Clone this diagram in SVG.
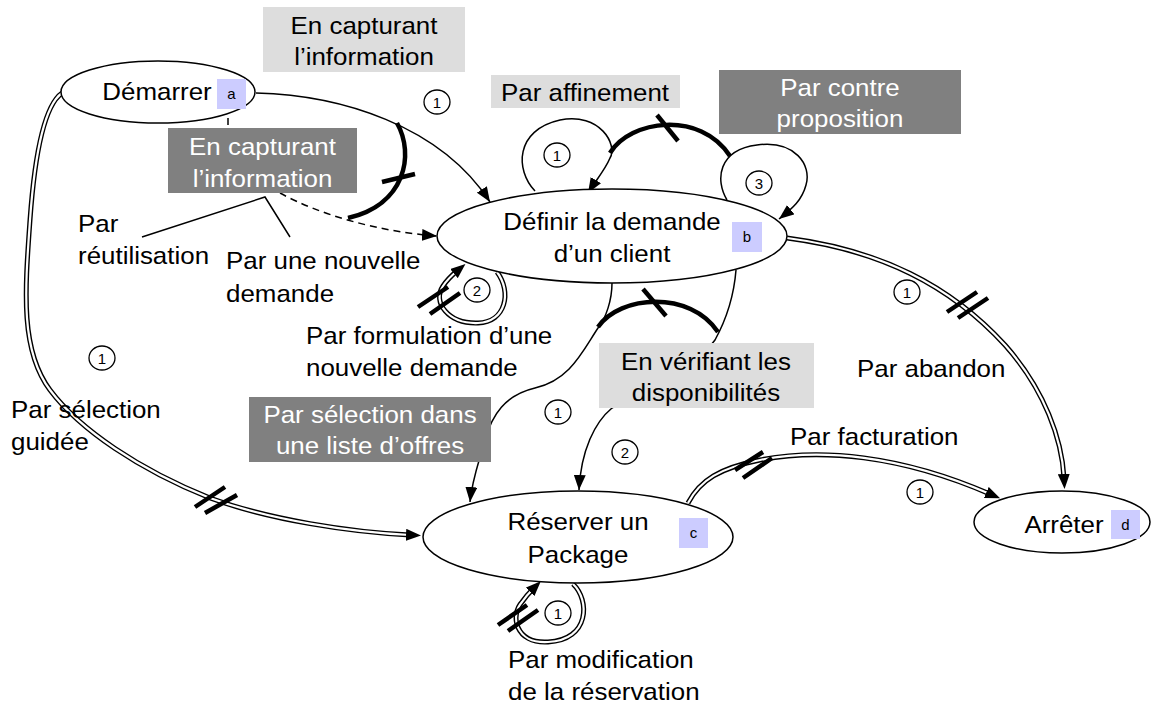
<svg xmlns="http://www.w3.org/2000/svg" width="1151" height="713" viewBox="0 0 1151 713">
<defs>
<style>
.t{font-family:"Liberation Sans",Arial,sans-serif;font-size:24px;fill:#000}
.w{fill:#fff}
.m{text-anchor:middle}
.node{fill:#fff;stroke:#000;stroke-width:1.5}
.lbl{fill:#ccccff}
.lt{font-family:"Liberation Sans",Arial,sans-serif;font-size:15px;text-anchor:middle;fill:#000}
.num{fill:#fff;stroke:#000;stroke-width:1.3}
.nt{font-family:"Liberation Sans",Arial,sans-serif;font-size:15px;text-anchor:middle;fill:#000}
.e{fill:none;stroke:#000;stroke-width:1.5}
.dash{stroke-dasharray:7 5}
.thick{fill:none;stroke:#000;stroke-width:4.5}
.tick{fill:none;stroke:#000;stroke-width:4.5}
.do{fill:none;stroke:#000;stroke-width:5}
.di{fill:none;stroke:#fff;stroke-width:2.2}
.lb{fill:#dddddd}
.db{fill:#808080}
</style>
<marker id="arr" markerUnits="userSpaceOnUse" markerWidth="15" markerHeight="12" refX="15" refY="6" orient="auto"><path d="M0,0 L15,6 L0,12 z" fill="#000"/></marker>
<marker id="arrd" markerUnits="userSpaceOnUse" markerWidth="15" markerHeight="12" refX="4" refY="6" orient="auto"><path d="M0,0 L15,6 L0,12 z" fill="#000"/></marker>
</defs>
<rect width="1151" height="713" fill="#fff"/>

<g id="connectors">
  <path class="e" d="M256,93 C340,95 440,125 490,202" marker-end="url(#arr)"/>
  <path class="e dash" d="M228,118 L228,130"/>
  <path class="e dash" d="M280,193 C320,215 380,232 437,236" marker-end="url(#arr)"/>
  <path class="e" d="M142,237 L265,197 L290,237"/>
  <path class="thick" d="M397,123 C415,155 405,205 348,218"/>
  <path class="tick" d="M382,182 L415,174"/>

  <path class="e" d="M535,191 C515,170 515,130 560,120 C600,112 618,145 610,158 C605,170 596,180 588,193" marker-end="url(#arr)"/>
  <path class="thick" d="M610,153 C630,120 700,110 730,156"/>
  <path class="tick" d="M657,115 L678,141"/>
  <path class="e" d="M727,200 C715,180 718,150 757,145 C795,140 812,165 806,185 C802,200 793,208 779,219" marker-end="url(#arr)"/>

  <path class="do" d="M497,272 C512,292 506,322 478,323 C448,324 432,302 443,286 C447,280 451,276 457,271"/>
  <path class="di" d="M497,272 C512,292 506,322 478,323 C448,324 432,302 443,286 C447,280 451,276 457,271" marker-end="url(#arrd)"/>
  <path class="tick" d="M418,307 L448,287 M430,314 L460,293"/>

  <path class="e" d="M612,283 C612,300 606,318 598,328 C582,352 570,380 535,388 C505,395 492,415 485,440 C478,465 472,480 470,502" marker-end="url(#arr)"/>
  <path class="e" d="M736,270 C734,295 726,320 715,340 C690,375 640,390 612,408 C595,422 581,450 579,490" marker-end="url(#arr)"/>
  <path class="thick" d="M598,327 C620,295 690,290 718,332"/>
  <path class="tick" d="M643,289 L666,316"/>

  <path class="do" d="M62,93 C45,105 35,150 30,220 C25,290 20,350 50,390 C80,430 140,470 210,498 C270,520 350,532 410,535"/>
  <path class="di" d="M62,93 C45,105 35,150 30,220 C25,290 20,350 50,390 C80,430 140,470 210,498 C270,520 350,532 410,535" marker-end="url(#arrd)"/>
  <path class="tick" d="M195,507 L225,487 M205,513 L237,495"/>

  <path class="do" d="M787,238 C880,250 950,285 1005,345 C1045,390 1062,440 1064,478"/>
  <path class="di" d="M787,238 C880,250 950,285 1005,345 C1045,390 1062,440 1064,478" marker-end="url(#arrd)"/>
  <path class="tick" d="M947,312 L977,292 M958,318 L988,298"/>

  <path class="do" d="M688,503 C700,480 720,468 760,460 C820,448 900,455 990,494"/>
  <path class="di" d="M688,503 C700,480 720,468 760,460 C820,448 900,455 990,494" marker-end="url(#arrd)"/>
  <path class="tick" d="M735,470 L763,452 M743,478 L772,458"/>

  <path class="do" d="M573,584 C590,600 590,640 548,642 C515,644 510,615 522,602 C526,596 530,592 533,589"/>
  <path class="di" d="M573,584 C590,600 590,640 548,642 C515,644 510,615 522,602 C526,596 530,592 533,589" marker-end="url(#arrd)"/>
  <path class="tick" d="M498,625 L527,605 M508,631 L538,610"/>
</g>

<g id="labels">
  <g id="lbl-capture-light">
    <rect class="lb" x="263" y="7" width="202" height="65"/>
    <text class="t m" transform="translate(364,34) scale(1.08,1)">En capturant<tspan x="0" dy="31">l’information</tspan></text>
  </g>
  <g id="lbl-capture-dark">
    <rect class="db" x="168" y="128" width="189" height="65"/>
    <text class="t m w" transform="translate(262.5,155) scale(1.08,1)">En capturant<tspan x="0" dy="32">l’information</tspan></text>
  </g>
  <g id="lbl-affinement">
    <rect class="lb" x="491" y="75" width="189" height="33"/>
    <text class="t m" transform="translate(585,101) scale(1.08,1)">Par affinement</text>
  </g>
  <g id="lbl-contre">
    <rect class="db" x="719" y="70" width="242" height="64"/>
    <text class="t m w" transform="translate(840,96) scale(1.08,1)">Par contre<tspan x="0" dy="31">proposition</tspan></text>
  </g>
  <g id="lbl-liste">
    <rect class="db" x="249" y="397" width="242" height="65"/>
    <text class="t m w" transform="translate(370,423) scale(1.08,1)">Par sélection dans<tspan x="0" dy="31">une liste d’offres</tspan></text>
  </g>
  <g id="lbl-verif">
    <rect class="lb" x="599" y="343" width="215" height="65"/>
    <text class="t m" transform="translate(706,370) scale(1.08,1)">En vérifiant les<tspan x="0" dy="31">disponibilités</tspan></text>
  </g>
  <text class="t" transform="translate(78,232) scale(1.08,1)">Par<tspan x="0" dy="32">réutilisation</tspan></text>
  <text class="t" transform="translate(226,269) scale(1.08,1)">Par une nouvelle<tspan x="0" dy="33">demande</tspan></text>
  <text class="t" transform="translate(306,344) scale(1.08,1)">Par formulation d’une<tspan x="0" dy="32">nouvelle demande</tspan></text>
  <text class="t" transform="translate(11,418) scale(1.08,1)">Par sélection<tspan x="0" dy="32">guidée</tspan></text>
  <text class="t" transform="translate(857,377) scale(1.08,1)">Par abandon</text>
  <text class="t" transform="translate(790,445) scale(1.08,1)">Par facturation</text>
  <text class="t" transform="translate(508,668) scale(1.08,1)">Par modification<tspan x="0" dy="32">de la réservation</tspan></text>

  <g id="nums">
    <ellipse class="num" cx="437" cy="102" rx="13" ry="12"/><text class="nt" x="437" y="107.5">1</text>
    <ellipse class="num" cx="557" cy="155" rx="13" ry="12"/><text class="nt" x="557" y="160.5">1</text>
    <ellipse class="num" cx="759" cy="183" rx="13" ry="12"/><text class="nt" x="759" y="188.5">3</text>
    <ellipse class="num" cx="477" cy="290" rx="13" ry="12"/><text class="nt" x="477" y="295.5">2</text>
    <ellipse class="num" cx="102" cy="358" rx="13" ry="12"/><text class="nt" x="102" y="363.5">1</text>
    <ellipse class="num" cx="558" cy="412" rx="13" ry="12"/><text class="nt" x="558" y="417.5">1</text>
    <ellipse class="num" cx="625" cy="452" rx="13" ry="12"/><text class="nt" x="625" y="457.5">2</text>
    <ellipse class="num" cx="907" cy="292" rx="13" ry="12"/><text class="nt" x="907" y="297.5">1</text>
    <ellipse class="num" cx="920" cy="492" rx="13" ry="12"/><text class="nt" x="920" y="497.5">1</text>
    <ellipse class="num" cx="558" cy="613" rx="13" ry="12"/><text class="nt" x="558" y="618.5">1</text>
  </g>
</g>

<g id="node-a">
  <ellipse class="node" cx="158" cy="92" rx="97" ry="31"/>
  <text class="t m" transform="translate(157,100) scale(1.08,1)">Démarrer</text>
  <rect class="lbl" x="217" y="79" width="29" height="30"/>
  <text class="lt" x="231.5" y="99">a</text>
</g>
<g id="node-b">
  <ellipse class="node" cx="612" cy="236" rx="175" ry="47"/>
  <text class="t m" transform="translate(612,230) scale(1.08,1)">Définir la demande<tspan x="0" dy="32">d’un client</tspan></text>
  <rect class="lbl" x="732" y="222" width="30" height="30"/>
  <text class="lt" x="747" y="242">b</text>
</g>
<g id="node-c">
  <ellipse class="node" cx="578" cy="537" rx="155" ry="46"/>
  <text class="t m" transform="translate(578,530) scale(1.08,1)">Réserver un<tspan x="0" dy="33">Package</tspan></text>
  <rect class="lbl" x="679" y="518" width="29" height="30"/>
  <text class="lt" x="693.5" y="538">c</text>
</g>
<g id="node-d">
  <ellipse class="node" cx="1062" cy="522" rx="88" ry="31"/>
  <text class="t m" transform="translate(1064,533) scale(1.08,1)">Arrêter</text>
  <rect class="lbl" x="1111" y="510" width="29" height="29"/>
  <text class="lt" x="1125.5" y="530">d</text>
</g>
</svg>
